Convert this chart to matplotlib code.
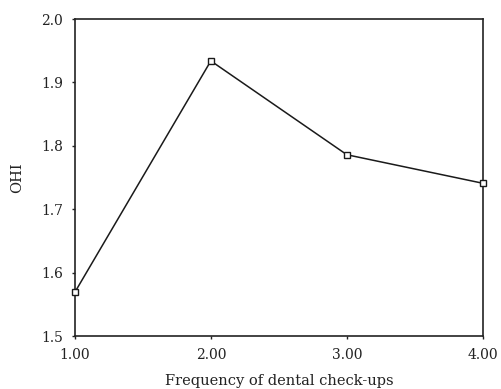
import matplotlib
matplotlib.use("Agg")
import matplotlib.pyplot as plt

freq = [1.0, 2.0, 3.0, 4.0]
ohi = [1.569, 1.934, 1.786, 1.741]
xticks = [1.0, 2.0, 3.0, 4.0]
xtick_labels = ["1.00", "2.00", "3.00", "4.00"]
yticks = [1.5, 1.6, 1.7, 1.8, 1.9, 2.0]
ytick_labels = ["1.5", "1.6", "1.7", "1.8", "1.9", "2.0"]

plt.rcParams['font.family'] = ['DejaVu Serif']

fig = plt.figure(figsize=(5.02, 3.89), dpi=100)
ax = fig.add_axes([0.149, 0.136, 0.813, 0.815])
ax.plot(freq, ohi, color='#1a1a1a', lw=1.1, marker='s', markersize=5,
        markerfacecolor='white', markeredgecolor='#1a1a1a', markeredgewidth=1.0,
        clip_on=False, zorder=5)
ax.set_xlim(1.0, 4.0)
ax.set_ylim(1.5, 2.0)
ax.set_xticks(xticks)
ax.set_xticklabels(xtick_labels)
ax.set_yticks(yticks)
ax.set_yticklabels(ytick_labels)
ax.tick_params(direction='out', length=2.5, width=1, labelsize=10, colors='#222222')
ax.tick_params(axis='x', pad=6)
ax.tick_params(axis='y', pad=6)
for s in ax.spines.values():
    s.set_linewidth(1.2)
    s.set_color('#222222')
ax.set_xlabel('Frequency of dental check-ups', fontsize=10.5, color='#222222', labelpad=8.5)
ax.set_ylabel('OHI', fontsize=10.5, color='#222222', labelpad=12)
fig.savefig('out.png', dpi=100)
